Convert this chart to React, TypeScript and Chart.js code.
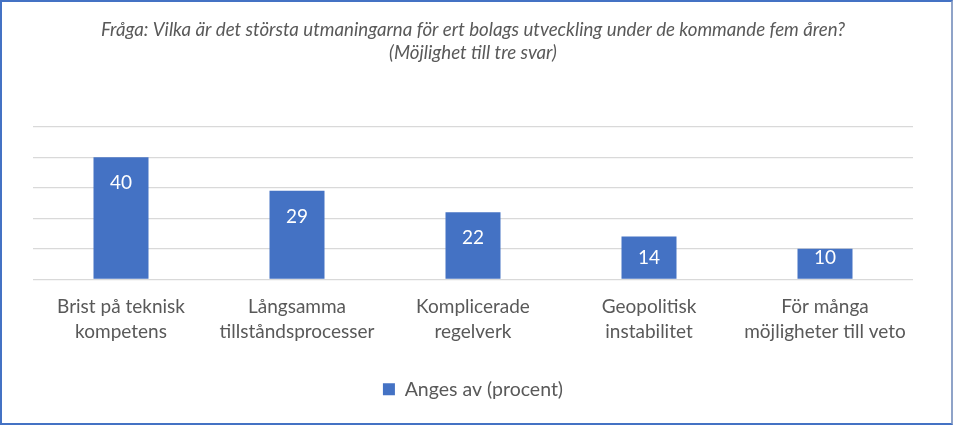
import React, { useEffect, useRef } from "react";
import { Chart, registerables } from "chart.js";

Chart.register(...registerables);

const categories: string[][] = [
  ["Brist på teknisk", "kompetens"],
  ["Långsamma", "tillståndsprocesser"],
  ["Komplicerade", "regelverk"],
  ["Geopolitisk", "instabilitet"],
  ["För många", "möjligheter till veto"],
];
const values: number[] = [40, 29, 22, 14, 10];
const seriesName = "Anges av (procent)";
const titleLines: string[] = [
  "Fråga: Vilka är det största utmaningarna för ert bolags utveckling under de kommande fem åren?",
  "(Möjlighet till tre svar)",
];

const FONT = "Lato, 'Open Sans', sans-serif";
const BLUE = "#4472C4";
const TEXT = "#595959";

const barLabels = {
  id: "barLabels",
  afterDatasetsDraw(chart: any) {
    const ctx = chart.ctx;
    const meta = chart.getDatasetMeta(0);
    ctx.save();
    ctx.fillStyle = "#FFFFFF";
    ctx.font = `19px ${FONT}`;
    ctx.textAlign = "center";
    ctx.textBaseline = "middle";
    meta.data.forEach((bar: any, i: number) => {
      const h = bar.base - bar.y;
      const off = Math.max(9, Math.min(26, h - 21));
      ctx.fillText(String(values[i]), bar.x, bar.y + off);
    });
    ctx.restore();
  },
};

export default function App() {
  const ref = useRef<HTMLCanvasElement>(null);
  useEffect(() => {
    document.body.style.margin = "0";
    const chart = new Chart(ref.current!, {
      type: "bar",
      data: {
        labels: categories,
        datasets: [
          {
            label: seriesName,
            data: values,
            backgroundColor: BLUE,
            categoryPercentage: 1,
            barPercentage: 0.3125,
          },
        ],
      },
      options: {
        animation: false,
        responsive: false,
        maintainAspectRatio: false,
        layout: { padding: { left: 31, right: 38, top: 0, bottom: 14 } },
        plugins: {
          title: {
            display: true,
            text: titleLines,
            color: TEXT,
            font: { family: FONT, size: 18.7, style: "italic", weight: "normal", lineHeight: 1.25 },
            padding: { top: 16, bottom: 62 },
          },
          legend: {
            position: "bottom",
            labels: {
              color: TEXT,
              font: { family: FONT, size: 19.5 },
              boxWidth: 12,
              boxHeight: 12,
              padding: 10,
            },
          },
          tooltip: { enabled: false },
        },
        scales: {
          x: {
            grid: { display: false },
            border: { display: false },
            ticks: {
              color: TEXT,
              font: { family: FONT, size: 19, lineHeight: 1.32 },
              padding: 7,
              maxRotation: 0,
              autoSkip: false,
            },
            afterFit: (axis: any) => {
              axis.height += 18;
            },
          },
          y: {
            min: 0,
            max: 50,
            ticks: { display: false, stepSize: 10 },
            grid: { color: "#D9D9D9", lineWidth: 1.3, drawTicks: false },
            border: { display: false },
          },
        },
      },
      plugins: [barLabels],
    });
    return () => chart.destroy();
  }, []);
  return (
    <div
      style={{
        width: 953,
        height: 425,
        boxSizing: "border-box",
        borderStyle: "solid",
        borderWidth: 2,
        borderColor: `${BLUE} #8FA3C8 ${BLUE} ${BLUE}`,
        background: "#fff",
      }}
    >
      <canvas ref={ref} width={949} height={421} style={{ display: "block" }} />
    </div>
  );
}
